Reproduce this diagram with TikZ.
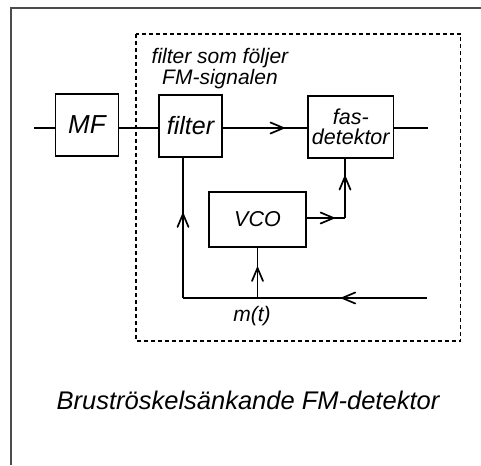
\documentclass[tikz,border=0pt]{standalone}
\usepackage{fontspec}
\setmainfont{Liberation Sans}
\usetikzlibrary{decorations.markings}
\tikzset{
  blk/.style={draw,line width=1.9pt,inner sep=0pt,font=\itshape},
  wire/.style={line width=1.9pt},
  chev/.style={wire,postaction={decorate},decoration={markings,
     mark=at position #1 with {\draw[line width=1.7pt,line cap=round,line join=miter] (-13pt,-5.5pt) -- (0pt,0pt) -- (-13pt,5.5pt);}}},
  lbl/.style={font=\itshape\fontsize{21}{21}\selectfont},
}
\begin{document}
\begin{tikzpicture}[x=1pt,y=-1pt]
\useasboundingbox (0,0) rectangle (481,465);
\fill[white] (0,0) rectangle (481,465);
% outer frame
\draw[line width=2pt,color=black!70] (10.5,465) -- (10.5,8.5) -- (481,8.5);
% dashed box
\draw[line width=1.4pt,dash pattern=on 4pt off 3pt] (136,34) rectangle (460.5,341);
% blocks
\node[blk,minimum width=63pt,minimum height=62pt,font=\itshape\fontsize{26}{26}\selectfont] (MF) at (87,125) {MF};
\node[blk,minimum width=63pt,minimum height=62pt,font=\itshape\fontsize{25}{25}\selectfont] (filt) at (190.5,126) {filter};
\node[blk,minimum width=85.5pt,minimum height=62pt,align=center,font=\itshape\fontsize{21.5}{19.5}\selectfont] (fas) at (350.75,127) {fas-\\detektor};
\node[blk,minimum width=97pt,minimum height=55pt,font=\itshape\fontsize{21.5}{21}\selectfont] (vco) at (257.5,219.5) {VCO};
% free points
\coordinate (in) at (34,128);
\coordinate (out) at (428,128);
\coordinate (mt) at (427,298);
\coordinate (jn) at (257.5,298);
\coordinate (lc) at (183,298);
\coordinate (cr) at (345,218);
% main chain
\draw[wire] (in) -- (in -| MF.west);
\draw[wire] (MF.east |- in) -- (filt.west |- in);
\draw[chev=0.72] (filt.east |- in) -- (fas.west |- in);
\draw[wire] (fas.east |- in) -- (out);
% VCO to phase detector
\draw[chev=0.7] (vco.east |- cr) -- (cr);
\draw[chev=0.7] (cr) -- (cr |- fas.south);
% feedback
\draw[chev=0.5] (mt) -- (jn);
\draw[wire] (jn) -- (lc);
\draw[chev=0.6] (lc) -- (lc |- filt.south);
\draw[chev=0.6] (jn) -- (vco.south);
% labels
\node[lbl,align=center] (cap) at (220,69) {filter som följer\\FM-signalen};
\node[lbl] (mtl) at (252,316) {m(t)};
\node[font=\itshape\fontsize{25.5}{25.5}\selectfont] (title) at (248,400) {Bruströskelsänkande FM-detektor};
\end{tikzpicture}
\end{document}
